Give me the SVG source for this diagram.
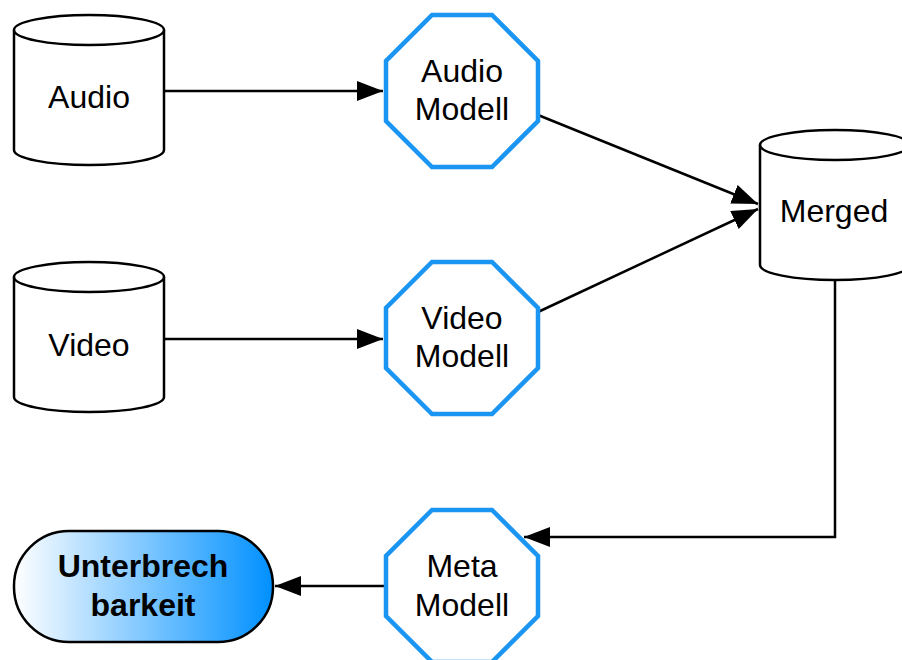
<svg xmlns="http://www.w3.org/2000/svg" width="902" height="660" viewBox="0 0 902 660">
<style>
.cyl{fill:#fff;stroke:#000;stroke-width:2.5}
.oct{fill:#fff;stroke:#1b95f2;stroke-width:4.5}
.t{font-family:"Liberation Sans",Arial,Helvetica,sans-serif;font-size:32px;fill:#000;text-anchor:middle}
.b{font-weight:bold}
.edge{fill:none;stroke:#000;stroke-width:2.5}
</style>
<defs>
<marker id="ah" markerUnits="userSpaceOnUse" markerWidth="27" markerHeight="21" refX="26" refY="10" orient="auto">
<path d="M0,0 L26,10 L0,20 Z" fill="#000"/>
</marker>
<linearGradient id="g" x1="0" y1="0" x2="1" y2="0">
<stop offset="0" stop-color="#ffffff"/>
<stop offset="1" stop-color="#0090ff"/>
</linearGradient>
</defs>
<g id="connectors">
<path class="edge" d="M164,91 L383,91" marker-end="url(#ah)"/>
<path class="edge" d="M164,339 L383,339" marker-end="url(#ah)"/>
<path class="edge" d="M538,115 L758,204" marker-end="url(#ah)"/>
<path class="edge" d="M538,312 L758,209" marker-end="url(#ah)"/>
<path class="edge" d="M835,280 L835,537 L524,537" marker-end="url(#ah)"/>
<path class="edge" d="M385,586 L275,586" marker-end="url(#ah)"/>
</g>
<g id="audio">
<path class="cyl" d="M14,30 A75,15 0 0 1 164,30 L164,150 A75,15 0 0 1 14,150 Z"/>
<path class="cyl" d="M14,30 A75,15 0 0 0 164,30" fill="none"/>
<text class="t" x="89" y="108">Audio</text>
</g>
<g id="video">
<path class="cyl" d="M14,277 A75,15 0 0 1 164,277 L164,397 A75,15 0 0 1 14,397 Z"/>
<path class="cyl" d="M14,277 A75,15 0 0 0 164,277" fill="none"/>
<text class="t" x="89" y="356">Video</text>
</g>
<g id="merged">
<path class="cyl" d="M760,145 A75,15 0 0 1 910,145 L910,265 A75,15 0 0 1 760,265 Z"/>
<path class="cyl" d="M760,145 A75,15 0 0 0 910,145" fill="none"/>
<text class="t" x="834" y="222">Merged</text>
</g>
<g id="audio-modell">
<polygon class="oct" points="432,15 492,15 538,61 538,121 492,167 432,167 386,121 386,61"/>
<text class="t" x="462" y="82">Audio</text>
<text class="t" x="462" y="120">Modell</text>
</g>
<g id="video-modell">
<polygon class="oct" points="432,262 492,262 538,308 538,368 492,414 432,414 386,368 386,308"/>
<text class="t" x="462" y="329">Video</text>
<text class="t" x="462" y="367">Modell</text>
</g>
<g id="meta-modell">
<polygon class="oct" points="432,510 492,510 538,556 538,616 492,662 432,662 386,616 386,556"/>
<text class="t" x="462" y="577">Meta</text>
<text class="t" x="462" y="616">Modell</text>
</g>
<g id="unterbrechbarkeit">
<rect x="14" y="531" width="259" height="111" rx="55" ry="55" fill="url(#g)" stroke="#000" stroke-width="2.5"/>
<text class="t b" x="143" y="577">Unterbrech</text>
<text class="t b" x="143" y="616">barkeit</text>
</g>
</svg>
